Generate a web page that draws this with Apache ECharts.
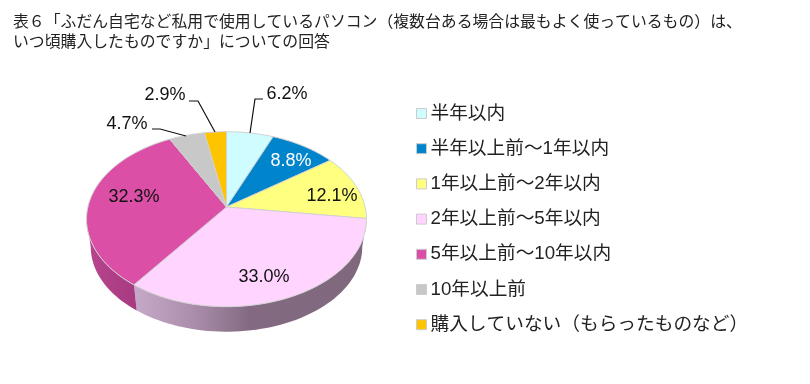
<!DOCTYPE html>
<html><head><meta charset="utf-8">
<style>html,body{margin:0;padding:0;background:#fff}#c{width:810px;height:384px}</style>
<script src="https://cdn.jsdelivr.net/npm/echarts@6/dist/echarts.min.js"></script>
</head><body><div id="c"></div>
<script>
const categories = ['半年以内','半年以上前～1年以内','1年以上前～2年以内','2年以上前～5年以内','5年以上前～10年以内','10年以上前','購入していない（もらったものなど）'];
const values = [6.2, 8.8, 12.1, 33.0, 32.3, 4.7, 2.9];
const titleLines = ['表６「ふだん自宅など私用で使用しているパソコン（複数台ある場合は最もよく使っているもの）は、','いつ頃購入したものですか」についての回答'];

const FONT = '"Liberation Sans","Noto Sans CJK JP",sans-serif';
const colors = ['#CFFCFF','#0085CC','#FFFF80','#FFD5FF','#DC4FA6','#C8C8C8','#FFC400'];
const labelColors = ['#111','#fff','#111','#111','#111','#111','#111'];
const sideStops = {
  3:[[0,'#C6A8C8'],[0.25,'#AC8EAC'],[0.5,'#836A82'],[1,'#7F687C']],
  4:[[0,'#B8458F'],[1,'#A63A80']]
};
// perspective disc: projective image of a circle
const P = {cx:226.5, cy:207, b:138.6, a:85.8, p:0.1395, depth:28, shrink:0.97, visFrom:98, visTo:262};
const labelPos = [[287,94],[291,161],[332,196],[264,277],[134,197],[127,124],[165,95]];
const leaders = {0:[[250,133],[255,99],[263,99]],5:[[186,136],[160,129],[152,129]],6:[[215,132],[198,101],[189,101]]};

function proj(deg){
  const t = deg*Math.PI/180, u = Math.sin(t), v = Math.cos(t), d = 1+P.p*v;
  return [P.b*u/d, -P.a*v/d];
}
const total = values.reduce((s,x)=>s+x,0);
function startDeg(i){ let s=0; for(let k=0;k<i;k++) s+=values[k]; return s/total*360; }
function arc(a,b,map){ const pts=[]; const n=Math.max(2,Math.ceil((b-a)/2)); for(let i=0;i<=n;i++){ pts.push(map(proj(a+(b-a)*i/n))); } return pts; }
const topMap = q=>[P.cx+q[0],P.cy+q[1]];
const lowMap = q=>[P.cx+P.shrink*q[0],P.cy+P.depth+P.shrink*q[1]];

function renderSlice(idx){
  return function(params, api){
    const val = api.value(0), a = startDeg(idx), b = a+val/total*360, kids=[];
    const sa = Math.max(a,P.visFrom), sb = Math.min(b,P.visTo);
    if (sb>sa && sideStops[idx]){
      const pts = arc(sa,sb,topMap).concat(arc(sa,sb,lowMap).reverse());
      kids.push({type:'polygon',shape:{points:pts},style:{
        fill:new echarts.graphic.LinearGradient(0,0,1,0,sideStops[idx].map(s=>({offset:s[0],color:s[1]}))),stroke:null}});
    }
    kids.push({type:'polygon',shape:{points:[[P.cx,P.cy]].concat(arc(a,b,topMap))},
      style:{fill:colors[idx],stroke:'#D2D2D2',lineWidth:1,lineJoin:'round'}});
    if (leaders[idx]) kids.push({type:'polyline',shape:{points:leaders[idx]},style:{fill:null,stroke:'#111',lineWidth:1.2}});
    kids.push({type:'text',z2:10,style:{x:labelPos[idx][0],y:labelPos[idx][1],text:val.toFixed(1)+'%',
      fill:labelColors[idx],font:'18px '+FONT,align:'center',verticalAlign:'middle'}});
    return {type:'group',children:kids};
  };
}
const chart = echarts.init(document.getElementById('c'),null,{renderer:'canvas'});
chart.setOption({
  animation:false,
  backgroundColor:'#fff',
  title:{left:8,top:8,text:titleLines.join('\n'),textStyle:{fontFamily:FONT,fontSize:15.85,fontWeight:'normal',color:'#222',lineHeight:20}},
  legend:{orient:'vertical',left:411,top:99,itemWidth:10,itemHeight:10,itemGap:16.2,icon:'rect',selectedMode:false,
    textStyle:{fontFamily:FONT,fontSize:18.7,color:'#222',padding:[0,0,0,-1],lineHeight:19},
    data:categories.map((n,i)=>({name:n,itemStyle:{color:colors[i],borderColor:'#CCC',borderWidth:1}}))},
  series:categories.map((n,i)=>({type:'custom',name:n,coordinateSystem:'none',silent:true,
    itemStyle:{color:colors[i]},data:[[values[i]]],renderItem:renderSlice(i)}))
});
</script></body></html>
